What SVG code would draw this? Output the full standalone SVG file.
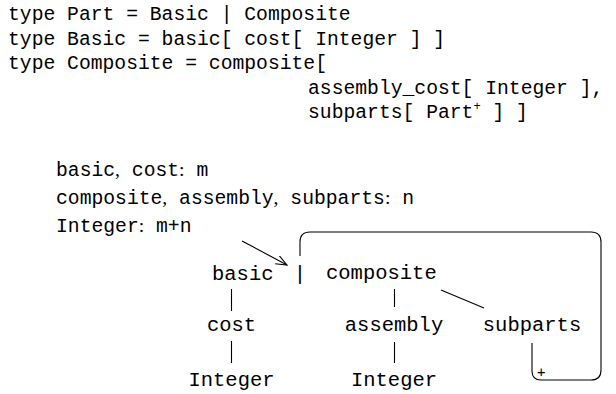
<svg xmlns="http://www.w3.org/2000/svg" width="616" height="394" viewBox="0 0 616 394">
  <style>
    .code { font-family: "Liberation Mono", "DejaVu Sans Mono", monospace; font-size: 19.7px; fill: #000; }
    .punct { font-family: "Liberation Serif", serif; }
    .node { font-family: "Liberation Mono", "DejaVu Sans Mono", monospace; font-size: 20.5px; fill: #000; }
    .sup { font-size: 12px; }
    .small { font-family: "DejaVu Sans Mono", monospace; font-size: 14px; fill: #000; }
    .edge { stroke: #000; stroke-width: 1.1; fill: none; }
  </style>
  <defs>
    <marker id="open-arrow" viewBox="0 0 12 10" refX="11" refY="5" markerWidth="12" markerHeight="10" markerUnits="userSpaceOnUse" orient="auto">
      <path d="M0,0.5 L11,5 L0,9.5" fill="none" stroke="#000" stroke-width="1.1"/>
    </marker>
  </defs>
  <rect width="616" height="394" fill="#fff"/>

  <!-- type declarations -->
  <g id="declarations" class="code">
    <text x="8" y="20">type Part = Basic | Composite</text>
    <text x="8" y="44.5">type Basic = basic[ cost[ Integer ] ]</text>
    <text x="8" y="69">type Composite = composite[</text>
    <text x="308" y="93.5">assembly_cost[ Integer ],</text>
    <text x="308" y="118">subparts[ Part<tspan class="sup" dy="-8">+</tspan><tspan dy="8"> ] ]</tspan></text>
  </g>

  <!-- cardinalities -->
  <g id="cardinalities" class="code">
    <text x="56" y="176">basic<tspan class="punct">,</tspan> cost<tspan class="punct">:</tspan> m</text>
    <text x="56" y="204">composite<tspan class="punct">,</tspan> assembly<tspan class="punct">,</tspan> subparts<tspan class="punct">:</tspan> n</text>
    <text x="56" y="232">Integer<tspan class="punct">:</tspan> m+n</text>
  </g>

  <!-- tree nodes -->
  <g id="node-basic"><text class="node" x="212" y="280">basic</text></g>
  <g id="node-choice"><text class="node" x="300" y="280" text-anchor="middle">|</text></g>
  <g id="node-composite"><text class="node" x="326" y="279">composite</text></g>
  <g id="node-cost"><text class="node" x="231.5" y="331" text-anchor="middle">cost</text></g>
  <g id="node-assembly"><text class="node" x="394" y="331" text-anchor="middle">assembly</text></g>
  <g id="node-subparts"><text class="node" x="532" y="331" text-anchor="middle">subparts</text></g>
  <g id="node-integer-1"><text class="node" x="231.5" y="386" text-anchor="middle">Integer</text></g>
  <g id="node-integer-2"><text class="node" x="394" y="386" text-anchor="middle">Integer</text></g>

  <!-- connectors -->
  <g id="connectors" class="edge">
    <line x1="231.5" y1="289" x2="231.5" y2="311"/>
    <line x1="231.5" y1="341" x2="231.5" y2="363"/>
    <line x1="394.5" y1="289" x2="394.5" y2="307"/>
    <line x1="394.5" y1="342" x2="394.5" y2="363"/>
    <line x1="441" y1="290" x2="484" y2="308"/>
    <line x1="242" y1="241" x2="287" y2="265" marker-end="url(#open-arrow)"/>
    <path d="M532,343 V371 Q532,380 541,380 H591 Q601,380 601,370 V242 Q601,232 591,232 H310 Q300,232 300,242 V256"/>
  </g>
  <text class="small" x="537" y="377">+</text>
</svg>
